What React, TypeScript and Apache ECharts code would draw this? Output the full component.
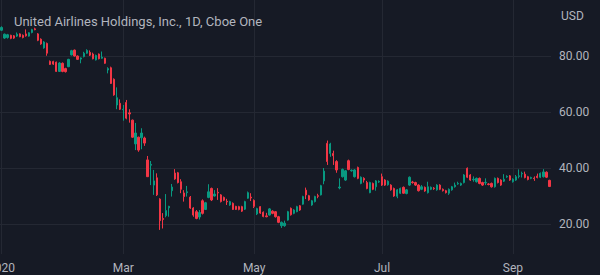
import React, { useEffect, useRef } from "react";
import * as echarts from "echarts";

const TITLE = "United Airlines Holdings, Inc., 1D, Cboe One";
const CURRENCY = "USD";
const FIRST_DAY = "2020-01-02";
const BAR_COUNT = 181;
const HOLIDAYS = ["2020-01-20", "2020-02-17", "2020-04-10", "2020-05-25", "2020-07-03", "2020-09-07"];
const LABEL_MONTHS = ["Mar", "May", "Jul", "Sep"];
const MONTH_NAMES = ["Jan", "Feb", "Mar", "Apr", "May", "Jun", "Jul", "Aug", "Sep", "Oct", "Nov", "Dec"];

const OPEN = [
  89.2, 86.4, 86.6, 87.4, 87.2, 87.1, 87.9, 87.4, 87.9, 87.1,
  88.4, 89.7, 87.9, 86.0, 82.9, 84.5, 78.1, 78.0, 77.8, 74.5,
  77.4, 75.5, 76.2, 80.4, 82.1, 80.0, 78.9, 79.8, 81.0, 81.3,
  80.7, 78.6, 80.7, 79.2, 79.2, 75.0, 75.8, 71.7, 62.5, 63.1,
  60.8, 63.4, 59.7, 57.1, 48.6, 51.0, 50.8, 50.7, 42.9, 41.0,
  33.9, 36.5, 28.9, 22.0, 23.0, 25.8, 31.9, 38.2, 38.3, 35.1,
  31.1, 31.2, 29.6, 25.7, 24.4, 22.5, 28.3, 25.2, 29.5, 32.7,
  30.0, 31.3, 30.4, 29.5, 28.1, 26.8, 27.4, 26.3, 26.2, 26.2,
  25.3, 29.2, 29.6, 28.4, 23.6, 26.2, 24.2, 22.9, 23.2, 24.6,
  24.4, 22.6, 19.4, 19.4, 21.4, 25.6, 23.8, 24.4, 26.5, 27.1,
  32.1, 30.1, 26.8, 28.0, 30.1, 30.4, 35.4, 48.8, 45.2, 45.2,
  42.3, 32.9, 36.9, 35.7, 42.6, 39.0, 36.9, 40.2, 34.5, 36.3,
  34.8, 31.2, 34.5, 33.3, 35.0, 36.9, 35.7, 34.0, 33.9, 32.7,
  29.9, 31.0, 33.1, 30.9, 33.9, 35.0, 34.8, 33.9, 32.4, 33.1,
  31.2, 32.4, 32.8, 32.2, 33.9, 32.4, 31.9, 31.0, 32.2, 33.3,
  34.3, 33.9, 34.8, 39.9, 37.5, 35.8, 35.1, 36.3, 34.8, 34.7,
  34.3, 34.5, 33.3, 36.3, 35.7, 35.3, 36.8, 37.2, 35.1, 35.7,
  37.0, 37.9, 37.8, 36.9, 36.3, 36.4, 37.1, 36.7, 36.9, 38.5, 35.6,
];
const CLOSE = [
  90.2, 87.8, 87.6, 86.3, 86.4, 87.8, 86.9, 86.6, 87.2, 88.3,
  89.4, 89.4, 85.6, 84.3, 85.0, 81.0, 77.0, 77.1, 74.5, 77.5,
  74.5, 74.4, 78.8, 81.9, 80.0, 78.8, 79.3, 81.0, 82.0, 80.3,
  79.0, 80.2, 79.0, 79.6, 77.4, 75.5, 70.2, 66.1, 65.1, 61.0,
  61.0, 57.8, 59.3, 51.0, 52.5, 46.4, 52.5, 48.9, 36.9, 41.3,
  35.4, 30.4, 21.2, 21.6, 24.8, 26.3, 33.2, 36.1, 34.8, 32.4,
  29.8, 31.5, 25.7, 23.2, 22.0, 24.1, 23.8, 27.6, 31.5, 28.6,
  30.7, 31.1, 28.0, 28.5, 27.9, 28.0, 25.2, 25.2, 25.2, 24.6,
  28.0, 31.2, 29.3, 26.3, 25.5, 23.9, 22.7, 22.6, 25.4, 23.8,
  22.6, 20.6, 20.6, 20.3, 24.4, 23.3, 25.0, 26.2, 25.0, 29.8,
  30.4, 28.6, 28.3, 29.8, 29.9, 33.7, 38.9, 42.3, 48.6, 44.4,
  39.3, 33.2, 39.5, 39.0, 39.5, 39.2, 39.3, 36.3, 36.7, 35.7,
  32.7, 34.8, 32.4, 35.4, 35.2, 33.9, 33.9, 35.3, 32.2, 30.0,
  32.2, 32.7, 31.0, 32.2, 36.7, 34.8, 33.9, 31.9, 33.3, 31.8,
  33.3, 33.1, 32.6, 33.9, 32.4, 31.9, 31.2, 32.4, 33.3, 33.9,
  34.5, 34.5, 37.5, 36.7, 35.7, 36.0, 36.3, 34.5, 33.9, 34.9,
  34.1, 33.3, 36.3, 34.8, 33.9, 36.0, 37.0, 35.7, 36.0, 36.9,
  37.2, 38.1, 36.6, 35.9, 36.6, 36.2, 36.6, 38.1, 38.6, 36.7, 33.4,
];
const LOW = [
  88.9, 86.1, 86.2, 86.0, 86.1, 86.8, 86.7, 86.3, 86.9, 86.9,
  88.1, 89.2, 85.3, 84.0, 82.6, 80.1, 76.8, 76.8, 74.3, 74.3,
  74.2, 74.1, 76.0, 80.2, 79.8, 78.6, 77.4, 79.5, 80.8, 80.0,
  78.8, 78.4, 78.8, 79.0, 77.2, 73.8, 70.0, 65.8, 61.0, 60.7,
  56.9, 57.4, 56.2, 50.8, 46.4, 45.8, 46.7, 47.9, 36.8, 33.9,
  30.4, 30.0, 17.9, 18.4, 22.4, 22.6, 29.8, 35.8, 34.5, 31.0,
  28.0, 29.8, 25.4, 22.6, 21.7, 21.6, 23.4, 25.0, 29.2, 28.2,
  29.8, 28.6, 27.7, 28.2, 26.8, 26.5, 25.0, 25.0, 24.9, 24.3,
  25.0, 29.0, 28.2, 25.7, 23.2, 23.6, 22.4, 22.4, 23.0, 23.5,
  22.3, 20.3, 18.6, 19.0, 21.2, 23.0, 23.5, 24.2, 24.7, 26.9,
  28.9, 28.3, 26.5, 27.7, 29.2, 30.2, 34.2, 41.1, 44.0, 41.1,
  38.3, 32.4, 36.6, 35.4, 39.2, 38.7, 36.6, 36.0, 34.2, 34.8,
  32.4, 31.0, 32.1, 31.9, 34.7, 33.6, 33.6, 33.7, 31.9, 29.7,
  29.2, 30.7, 30.8, 30.6, 33.6, 34.4, 33.6, 31.6, 32.1, 31.5,
  30.9, 32.1, 32.2, 31.9, 32.1, 31.6, 30.9, 30.4, 31.9, 33.0,
  34.0, 33.6, 34.5, 36.4, 35.4, 35.1, 34.8, 34.2, 33.6, 33.9,
  33.8, 33.0, 33.0, 34.5, 33.6, 35.0, 36.5, 35.4, 34.8, 35.4,
  36.3, 36.6, 36.3, 35.6, 36.0, 35.4, 36.3, 36.4, 36.6, 36.4, 33.2,
];
const HIGH = [
  90.6, 88.0, 87.9, 87.6, 87.5, 88.4, 88.1, 87.7, 89.5, 88.5,
  89.7, 90.1, 88.2, 86.3, 85.3, 84.8, 78.4, 78.3, 78.0, 77.8,
  77.7, 75.8, 79.0, 82.2, 82.3, 80.2, 79.5, 81.5, 82.4, 82.0,
  81.2, 80.5, 80.9, 81.6, 79.4, 76.0, 76.2, 72.0, 68.8, 64.5,
  62.5, 64.3, 61.0, 57.3, 56.1, 51.2, 54.2, 51.2, 44.3, 42.5,
  39.3, 38.1, 29.2, 23.9, 30.7, 26.5, 34.3, 39.6, 38.6, 36.0,
  32.1, 33.6, 30.0, 26.0, 25.0, 25.0, 28.8, 27.9, 34.2, 33.0,
  32.1, 32.8, 30.7, 29.8, 29.0, 28.3, 27.7, 26.5, 26.5, 26.5,
  28.3, 31.6, 31.0, 28.8, 25.8, 26.4, 24.5, 24.0, 25.7, 24.9,
  24.6, 22.9, 20.9, 21.2, 24.7, 25.9, 25.3, 26.5, 26.8, 30.1,
  33.0, 30.4, 28.6, 30.1, 30.8, 34.0, 40.0, 49.8, 49.0, 46.2,
  42.8, 36.3, 39.8, 39.3, 43.0, 39.5, 39.6, 40.5, 37.0, 36.7,
  35.4, 35.1, 34.8, 35.7, 35.6, 38.0, 36.0, 35.6, 34.2, 33.0,
  32.5, 33.0, 33.4, 32.5, 37.0, 35.4, 35.1, 34.2, 33.9, 33.4,
  35.1, 33.4, 33.2, 34.2, 34.2, 32.7, 32.2, 32.7, 33.6, 34.8,
  35.1, 34.8, 37.8, 40.2, 37.8, 37.0, 36.6, 36.6, 35.1, 36.3,
  34.6, 34.8, 36.6, 36.6, 36.0, 37.8, 37.4, 37.5, 36.3, 37.5,
  39.5, 38.7, 38.7, 37.2, 36.9, 37.0, 38.0, 38.4, 39.6, 38.8, 35.8,
];

const BG = "#161a25";
const GRID = "#242833";
const TEXT = "#b2b5be";
const UP = "#089981";
const DOWN = "#f23645";
const FONT = "Roboto, 'Noto Sans', sans-serif";

function tradingDays(start: string, count: number, holidays: string[]): string[] {
  const out: string[] = [];
  const d = new Date(start + "T00:00:00Z");
  while (out.length < count) {
    const dow = d.getUTCDay();
    const s = d.toISOString().slice(0, 10);
    if (dow !== 0 && dow !== 6 && holidays.indexOf(s) < 0) out.push(s);
    d.setUTCDate(d.getUTCDate() + 1);
  }
  return out;
}

const DATES = tradingDays(FIRST_DAY, BAR_COUNT, HOLIDAYS);

function labelFor(index: number): string {
  if (index === 0) return DATES[0].slice(0, 4);
  const m = Number(DATES[index].slice(5, 7));
  const pm = Number(DATES[index - 1].slice(5, 7));
  if (m !== pm && LABEL_MONTHS.indexOf(MONTH_NAMES[m - 1]) >= 0) return MONTH_NAMES[m - 1];
  return "";
}

const isMarked = (index: number) => labelFor(index) !== "";

export default function App() {
  const ref = useRef<HTMLDivElement>(null);
  useEffect(() => {
    if (!ref.current) return;
    const chart = echarts.init(ref.current, undefined, { renderer: "svg" });
    const data = OPEN.map((o, i) => [o, CLOSE[i], LOW[i], HIGH[i]]);
    chart.setOption({
      animation: false,
      backgroundColor: BG,
      textStyle: { fontFamily: FONT },
      title: {
        text: TITLE,
        left: 9,
        top: 10,
        textStyle: { color: TEXT, fontSize: 13, fontWeight: "normal", fontFamily: FONT },
      },
      graphic: [
        {
          type: "text",
          left: 561,
          top: 10,
          style: { text: CURRENCY, fill: TEXT, font: `12px ${FONT}` },
        },
      ],
      grid: {
        left: 0,
        top: 0,
        width: 551,
        height: 254,
        containLabel: false,
        outerBoundsMode: "none",
      },
      xAxis: {
        type: "category",
        data: DATES,
        boundaryGap: true,
        axisLine: { show: false },
        axisTick: { show: false },
        axisLabel: {
          interval: (index: number) => isMarked(index),
          formatter: (_v: string, index: number) => labelFor(index),
          color: TEXT,
          fontSize: 12,
          fontFamily: FONT,
          margin: 8,
        },
        splitLine: {
          show: true,
          alignWithLabel: true,
          interval: (index: number) => isMarked(index),
          lineStyle: { color: GRID, width: 1 },
        },
      },
      yAxis: {
        type: "value",
        position: "right",
        min: 9.29,
        max: 100,
        splitNumber: 5,
        minInterval: 20,
        maxInterval: 20,
        axisLine: { show: false },
        axisTick: { show: false },
        axisLabel: {
          color: TEXT,
          fontSize: 12,
          fontFamily: FONT,
          margin: 8,
          showMinLabel: false,
          showMaxLabel: false,
          formatter: (v: number) => v.toFixed(2),
        },
        splitLine: {
          show: true,
          showMinLine: false,
          showMaxLine: false,
          lineStyle: { color: GRID, width: 1 },
        },
      },
      series: [
        {
          type: "candlestick",
          data,
          barWidth: 1.8,
          itemStyle: {
            color: UP,
            color0: DOWN,
            borderColor: UP,
            borderColor0: DOWN,
            borderWidth: 1,
          },
        },
      ],
    });
    return () => chart.dispose();
  }, []);
  return (
    <div
      ref={ref}
      style={{ position: "absolute", left: 0, top: 0, width: 600, height: 275 }}
    />
  );
}
